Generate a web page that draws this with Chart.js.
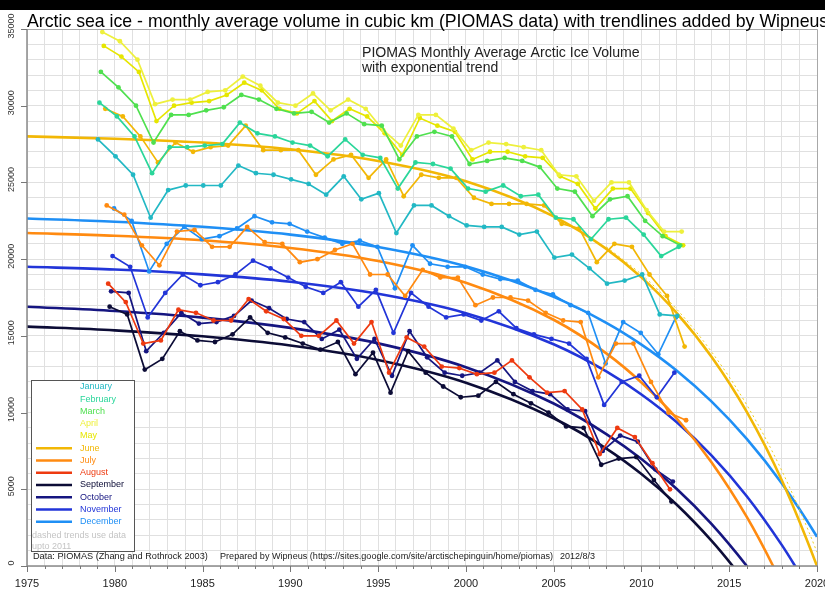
<!DOCTYPE html>
<html>
<head>
<meta charset="utf-8">
<script src="https://cdn.jsdelivr.net/npm/chart.js@4/dist/chart.umd.min.js"></script>
<style>
  html, body { margin: 0; padding: 0; background: #fff; }
  #wrap { width: 825px; height: 591px; position: relative; }
</style>
</head>
<body>
<div id="wrap"><canvas id="c" width="825" height="591"></canvas></div>
<script>
// PIOMAS monthly average Arctic sea ice volume, km^3
const years = [1979,1980,1981,1982,1983,1984,1985,1986,1987,1988,1989,1990,1991,1992,1993,1994,1995,
               1996,1997,1998,1999,2000,2001,2002,2003,2004,2005,2006,2007,2008,2009,2010,2011,2012];
const monthNames = ['January','February','March','April','May','June','July','August','September','October','November','December'];
const monthColors = ['#22b8c4','#2ad69a','#4fe04f','#eef03c','#e6e600','#f2b705','#ff8a10','#ee3a10','#0c0c36','#151580','#2235d8','#1f8ff5'];

const jan = [27800,26700,25500,22700,24500,24800,24800,24800,26100,25600,25500,25200,24900,24200,25400,23900,24300,21700,23500,23500,22800,22200,22100,22100,21600,21800,20100,20300,19400,18400,18600,19000,16400,16300];
const feb = [30200,29300,28000,25600,27300,27300,27400,27500,28900,28200,28000,27600,27400,26700,27800,26800,26600,24600,26300,26200,25900,24600,24400,24800,24100,24200,22700,22600,21300,22600,22700,21600,20200,20800];
const mar = [32200,31200,30000,27600,29400,29400,29700,29900,30700,30400,29800,29500,29600,28900,29500,28800,28700,26500,28000,28300,28000,26200,26400,26600,26400,26000,24600,24400,22800,23900,24100,22500,21500,20900];
const apr = [34800,34200,33000,30100,30400,30400,30900,31000,31900,31300,30200,30000,30800,29700,30400,29800,28400,27400,29400,29400,28500,27100,27600,27500,27300,27100,25500,25400,23800,25000,25000,23200,21800,21800];
const may = [33900,33200,32200,29000,30000,30200,30300,30700,31500,31000,29800,29500,30300,29000,29800,29300,28200,26800,29200,28700,28300,26500,27000,27000,26700,26600,25400,24900,23300,24600,24600,23000,21500,20900];
const jun = [29800,29300,28000,26300,27600,27000,27300,27400,28700,27100,27100,27100,25500,26500,26800,25300,26500,24100,25500,25300,25300,24000,23600,23600,23600,23500,22300,22000,19800,21000,20800,19000,17600,14300];
const jul = [23500,22900,20900,19600,21800,21900,20800,20800,22100,21100,21000,19800,20000,20600,21000,19000,19000,17600,19300,18800,18800,17000,17500,17500,17300,16500,16000,15900,12300,14500,14500,12000,10000,9500];
const aug = [18400,17200,14500,14700,16700,16500,16000,16000,17400,16600,16100,15000,15000,16000,14500,15900,12600,14900,14300,13000,12900,12500,12600,13400,12300,11300,11400,10200,7300,9000,8400,6700,5000];
const sep = [16900,16400,12800,13500,15300,14700,14600,15100,16200,15200,14900,14500,14100,14600,12500,13900,11300,14000,12600,11700,11000,11100,12000,11200,10600,10000,9100,9000,6600,7000,7100,5600,4200];
const oct = [17900,17800,14000,15200,16500,15800,15900,16300,17300,16800,16100,15900,14800,15400,13500,14800,12400,15300,13600,12600,12400,12600,13400,12000,11400,11200,10200,10100,7500,8500,8100,6300,5500];
const nov = [20200,19500,16200,17800,19000,18300,18500,19000,19900,19400,18800,18200,17800,18500,16900,18000,15200,17800,16900,16200,16400,16000,16600,15500,15100,14800,14500,13500,10500,12000,12400,11000,12600];
const dec = [23300,22500,19200,21000,22100,21300,21500,22000,22800,22400,22300,21800,21400,21000,21200,20800,18100,20900,19700,19500,19500,19000,18700,18600,18000,17700,17000,16500,13200,15900,15200,13800,16200];
const monthly = [jan,feb,mar,apr,may,jun,jul,aug,sep,oct,nov,dec];

// exponential trend lines, [year, km^3] knots
const trendJun = [[1975,28000],[1980,27850],[1985,27600],[1990,27160],[1995,26400],[2000,25080],[2005,22790],[2008,20670],[2010,18810],[2012,16500],[2014,13620],[2016,10040],[2018,5570],[2020,0],[2020.5,-1590]];
const trendJunTo2011 = [[2008,20800],[2010,19000],[2012,16750],[2014,13950],[2016,10500],[2018,6200],[2020,900],[2021,-2300]];
const trendJul = [[1975,21700],[1980,21520],[1985,21230],[1990,20730],[1995,19880],[2000,18460],[2005,16050],[2008,13860],[2010,11960],[2012,9630],[2014,6750],[2016,3200],[2017.5,0],[2018.5,-2430]];
const trendSep = [[1975,15600],[1980,15360],[1985,14970],[1990,14370],[1995,13430],[2000,11950],[2005,9630],[2008,7650],[2010,5990],[2012,4010],[2014,1640],[2015.2,0],[2016,-1200]];
const trendOct = [[1975,16900],[1980,16620],[1985,16190],[1990,15520],[1995,14510],[2000,12960],[2005,10590],[2008,8600],[2010,6970],[2012,5030],[2014,2730],[2016,0],[2017,-1550]];
const trendNov = [[1975,19500],[1980,19320],[1985,19010],[1990,18530],[1995,17740],[2000,16480],[2005,14450],[2008,12680],[2010,11180],[2012,9380],[2014,7190],[2016,4550],[2018,1360],[2018.75,0],[2019.5,-1460]];
const trendDec = [[1975,22650],[1980,22440],[1985,22110],[1990,21600],[1995,20790],[2000,19530],[2005,17540],[2008,15850],[2010,14430],[2012,12740],[2014,10710],[2016,8280],[2018,5380],[2020,1910],[2021,-80]];

const yTicks = [0,5000,10000,15000,20000,25000,30000,35000];
const xTicks = [1975,1980,1985,1990,1995,2000,2005,2010,2015,2020];

const titleText = 'Arctic sea ice - monthly average volume in cubic km (PIOMAS data) with trendlines added by Wipneus';
const subTitle = ['PIOMAS Monthly Average Arctic Ice Volume', 'with exponential trend'];
const footer = ['Data: PIOMAS (Zhang and Rothrock 2003)', 'Prepared by Wipneus (https://sites.google.com/site/arctischepinguin/home/piomas)', '2012/8/3'];
const legendNote = ['dashed trends use data', 'upto 2011'];

const FONT = '"Liberation Sans", Arial, Helvetica, sans-serif';

const datasets = [];
monthly.forEach((vals, m) => {
  datasets.push({
    label: monthNames[m],
    data: vals.map((v, i) => ({ x: years[i] + (m + 0.5) / 12, y: v })),
    borderColor: monthColors[m],
    backgroundColor: monthColors[m],
    borderWidth: 1.7,
    pointRadius: 2.4,
    pointBorderWidth: 0,
    order: 1
  });
});
function trendSet(knots, color, dashed) {
  return {
    label: 'trend',
    data: knots.map(k => ({ x: k[0], y: k[1] })),
    borderColor: color,
    borderWidth: dashed ? 1 : 2.6,
    borderDash: dashed ? [2, 3] : [],
    pointRadius: 0,
    cubicInterpolationMode: 'monotone',
    order: 2
  };
}
datasets.push(trendSet(trendJun, monthColors[5]));
datasets.push(trendSet(trendJunTo2011, '#f0d020', true));
datasets.push(trendSet(trendJul, monthColors[6]));
datasets.push(trendSet(trendSep, monthColors[8]));
datasets.push(trendSet(trendOct, monthColors[9]));
datasets.push(trendSet(trendNov, monthColors[10]));
datasets.push(trendSet(trendDec, monthColors[11]));

function fitText(c, text, x, y, base, width) {
  c.font = base + 'px ' + FONT;
  const w = c.measureText(text).width;
  c.font = (base * width / w).toFixed(2) + 'px ' + FONT;
  c.fillText(text, x, y);
}

const decor = {
  id: 'decor',
  beforeDraw(chart) {
    const c = chart.ctx;
    c.save();
    c.fillStyle = '#fff';
    c.fillRect(0, 0, chart.width, chart.height);
    c.fillStyle = '#000';
    c.fillRect(0, 0, chart.width, 10);
    c.restore();
  },
  afterDraw(chart) {
    const c = chart.ctx;
    const a = chart.chartArea;
    const xs = chart.scales.x, ys = chart.scales.y;
    c.save();
    // frame (top/right) and axes (left/bottom)
    c.strokeStyle = '#a8a8a8';
    c.lineWidth = 1;
    c.beginPath();
    c.moveTo(a.left, a.top + 0.5); c.lineTo(a.right + 0.5, a.top + 0.5); c.lineTo(a.right + 0.5, a.bottom);
    c.stroke();
    c.strokeStyle = '#8a8a8a';
    c.lineWidth = 1.5;
    c.beginPath();
    c.moveTo(a.left, a.top); c.lineTo(a.left, a.bottom); c.lineTo(a.right + 1, a.bottom);
    c.stroke();
    // x ticks: every year, longer every 5 years
    c.lineWidth = 1;
    c.strokeStyle = '#777';
    for (let yr = 1975; yr <= 2020; yr++) {
      const px = Math.round(xs.getPixelForValue(yr)) + 0.5;
      const len = yr % 5 === 0 ? 6 : 3;
      c.beginPath(); c.moveTo(px, a.bottom); c.lineTo(px, a.bottom + len); c.stroke();
    }
    // y ticks
    yTicks.forEach(v => {
      const py = Math.round(ys.getPixelForValue(v)) + 0.5;
      c.beginPath(); c.moveTo(a.left - 6, py); c.lineTo(a.left, py); c.stroke();
    });
    // x labels
    c.fillStyle = '#222';
    c.font = '11px ' + FONT;
    c.textAlign = 'center';
    c.textBaseline = 'alphabetic';
    xTicks.forEach(v => {
      c.fillText(String(v), xs.getPixelForValue(v), 587);
    });
    // y labels, rotated
    c.font = '9px ' + FONT;
    c.fillStyle = '#333';
    yTicks.forEach(v => {
      const py = ys.getPixelForValue(v) - 3;
      c.save();
      c.translate(14, py);
      c.rotate(-Math.PI / 2);
      c.textAlign = 'center';
      c.fillText(String(v), 0, 0);
      c.restore();
    });
    // title
    c.fillStyle = '#000';
    c.textAlign = 'left';
    fitText(c, titleText, 27, 27, 20, 802);
    // subtitle
    c.fillStyle = '#222';
    fitText(c, subTitle[0], 362, 57, 14, 278);
    c.font = '14px ' + FONT;
    c.fillText(subTitle[1], 362, 72);
    // footer
    c.fillStyle = '#222';
    fitText(c, footer[0], 33, 559, 9, 175);
    fitText(c, footer[1], 220, 559, 9, 333);
    fitText(c, footer[2], 560, 559, 9, 35);
    // legend box
    c.fillStyle = '#fff';
    c.fillRect(31, 380, 103, 171);
    c.strokeStyle = '#555';
    c.lineWidth = 1;
    c.strokeRect(31.5, 380.5, 103, 171);
    c.font = '9px ' + FONT;
    c.textBaseline = 'middle';
    monthNames.forEach((name, m) => {
      const y = 387 + m * 12.25;
      if (m >= 5) {
        c.strokeStyle = monthColors[m];
        c.lineWidth = 2.5;
        c.beginPath(); c.moveTo(36, y); c.lineTo(72, y); c.stroke();
      }
      c.fillStyle = monthColors[m];
      c.fillText(name, 80, y);
    });
    c.fillStyle = '#c4c4c4';
    c.fillText(legendNote[0], 32, 536);
    c.fillText(legendNote[1], 32, 547);
    c.restore();
  }
};

new Chart(document.getElementById('c'), {
  type: 'line',
  data: { datasets },
  options: {
    responsive: false,
    animation: false,
    layout: { padding: { left: 27, top: 29, right: 8, bottom: 25 } },
    plugins: { legend: { display: false }, tooltip: { enabled: false }, title: { display: false } },
    scales: {
      x: {
        type: 'linear', min: 1975, max: 2020,
        ticks: { stepSize: 1, display: false },
        grid: { color: '#e0e0e0', lineWidth: 1, drawTicks: false },
        border: { display: false }
      },
      y: {
        type: 'linear', min: 0, max: 35000,
        ticks: { stepSize: 1000, display: false },
        grid: { color: '#e0e0e0', lineWidth: 1, drawTicks: false },
        border: { display: false }
      }
    }
  },
  plugins: [decor]
});
</script>
</body>
</html>
